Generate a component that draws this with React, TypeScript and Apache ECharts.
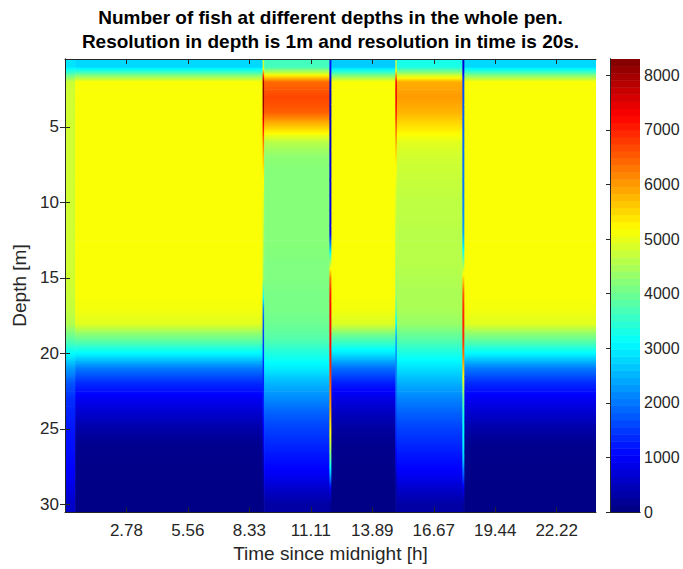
import React, { useEffect, useRef } from "react";
import * as echarts from "echarts";

const FONT = "'Liberation Sans', Arial, Helvetica, sans-serif";
const TXT = "#262626";

// Title lines
const titleLines = [
  "Number of fish at different depths in the whole pen.",
  "Resolution in depth is 1m and resolution in time is 20s.",
];

// Time segments (hours since midnight)
const segmentStart = [0, 0.46, 8.93, 9.0, 11.95, 12.04, 14.93, 15.0, 17.96, 18.05];
const segmentEnd = [0.46, 8.93, 9.0, 11.95, 12.04, 14.93, 15.0, 17.96, 18.05, 24];

// Depth rows (m)
const depths = [1, 2, 3, 4, 5, 6, 7, 8, 9, 10, 11, 12, 13, 14, 15, 16, 17, 18, 19, 20, 21, 22, 23, 24, 25, 26, 27, 28, 29, 30];

// Fish counts per depth (1..30 m) in each time segment
const profileStart = [2900, 4750, 4800, 4800, 4800, 4800, 4800, 4800, 4800, 4800, 4800, 4800, 4800, 4800, 4800, 4750, 4700, 4550, 3900, 3100, 2300, 1700, 1400, 1300, 1200, 1150, 1100, 1000, 800, 600];
const profileNight = [2800, 5150, 5150, 5150, 5150, 5150, 5150, 5150, 5150, 5150, 5150, 5150, 5150, 5150, 5150, 5150, 5100, 4950, 4000, 3050, 2000, 1350, 930, 620, 320, 130, 90, 70, 60, 50];
const profileEdge1 = [4800, 8100, 8200, 7900, 7100, 6300, 5700, 5300, 5100, 4900, 4800, 4700, 4600, 4500, 4400, 3500, 2200, 1700, 1500, 1500, 1400, 1300, 1300, 1200, 1000, 800, 500, 300, 200, 100];
const profileFeed1 = [3650, 6400, 6700, 6500, 5600, 4600, 4250, 4200, 4200, 4200, 4200, 4200, 4200, 4150, 4150, 4100, 4100, 4000, 3800, 3350, 2950, 2500, 2150, 1800, 1550, 1350, 1150, 950, 600, 300];
const profileEdge2 = [1200, 600, 500, 500, 550, 600, 650, 700, 700, 750, 800, 900, 2500, 4500, 6300, 7000, 7200, 7200, 7200, 7100, 6900, 6500, 6200, 5800, 5300, 4700, 3800, 2500, 800, 200];
const profileMidday = [2700, 5150, 5150, 5150, 5150, 5150, 5150, 5150, 5150, 5150, 5150, 5150, 5150, 5150, 5150, 5150, 5100, 4900, 3800, 2900, 1900, 1250, 800, 500, 260, 120, 90, 70, 60, 50];
const profileEdge3 = [4600, 7300, 7400, 7100, 6500, 5900, 5400, 5100, 4900, 4800, 4700, 4600, 4600, 4500, 4400, 4300, 3900, 3000, 2400, 2200, 2100, 2000, 1800, 1600, 1400, 1200, 900, 500, 300, 200];
const profileFeed2 = [3300, 5850, 6000, 5800, 5400, 4950, 4800, 4750, 4700, 4650, 4650, 4600, 4600, 4600, 4550, 4500, 4500, 4350, 3850, 3300, 2850, 2450, 2100, 1800, 1550, 1350, 1150, 950, 600, 300];
const profileEdge4 = [700, 1600, 1700, 1800, 1800, 1900, 1900, 2000, 2000, 2100, 2200, 2400, 3000, 4200, 5500, 6500, 6900, 7000, 6900, 6400, 5600, 4800, 3900, 3300, 3100, 3000, 2700, 1800, 800, 200];
const profileEvening = [2800, 5150, 5150, 5150, 5150, 5150, 5150, 5150, 5150, 5150, 5150, 5150, 5150, 5150, 5150, 5150, 5100, 4950, 4000, 3050, 2000, 1350, 930, 620, 320, 130, 90, 70, 60, 50];

const profiles = [profileStart, profileNight, profileEdge1, profileFeed1, profileEdge2, profileMidday, profileEdge3, profileFeed2, profileEdge4, profileEvening];

// Axis ticks
const xTickValues = [2.7778, 5.5556, 8.3333, 11.1111, 13.8889, 16.6667, 19.4444, 22.2222];
const yTickValues = [5, 10, 15, 20, 25, 30];
const colorTickValues = [0, 1000, 2000, 3000, 4000, 5000, 6000, 7000, 8000];
const colorMax = 8300;
const colormapSize = 64;

function jetColor(f: number): string {
  const c = (x: number) => Math.max(0, Math.min(1, x));
  const ff = Math.max(0, Math.min(1, f));
  const r = c(1.5 - Math.abs(4 * ff - 3));
  const g = c(1.5 - Math.abs(4 * ff - 2));
  const b = c(1.5 - Math.abs(4 * ff - 1));
  return `rgb(${Math.round(r * 255)},${Math.round(g * 255)},${Math.round(b * 255)})`;
}

export default function App() {
  const ref = useRef<HTMLDivElement>(null);

  useEffect(() => {
    if (!ref.current) return;
    const chart = echarts.init(ref.current, undefined, { renderer: "svg" });

    const heatData: number[][] = [];
    profiles.forEach((prof, s) => {
      depths.forEach((d, i) => {
        const v = prof[i];
        const vPrev = i > 0 ? prof[i - 1] : v;
        const vNext = i < prof.length - 1 ? prof[i + 1] : v;
        heatData.push([segmentStart[s], segmentEnd[s], d, v, vPrev, vNext]);
      });
    });

    const barData: number[][] = [];
    for (let i = 0; i < colormapSize; i++) {
      barData.push([(i * colorMax) / colormapSize, ((i + 1) * colorMax) / colormapSize, (i + 0.5) / colormapSize]);
    }

    const axisLine = { show: true, lineStyle: { color: TXT, width: 1 } };
    const labelStyle = { color: TXT, fontFamily: FONT };

    const option: any = {
      animation: false,
      backgroundColor: "#ffffff",
      textStyle: { fontFamily: FONT },
      graphic: [
        {
          type: "text",
          x: 330.5,
          y: 17.5,
          style: { text: titleLines[0], fill: "#000", font: `bold 19px ${FONT}`, align: "center", verticalAlign: "middle", textAlign: "center", textVerticalAlign: "middle" },
        },
        {
          type: "text",
          x: 330.5,
          y: 41.5,
          style: { text: titleLines[1], fill: "#000", font: `bold 19px ${FONT}`, align: "center", verticalAlign: "middle", textAlign: "center", textVerticalAlign: "middle" },
        },
      ],
      grid: [
        { left: 65, top: 59, width: 531, height: 453, containLabel: false },
        { left: 610, top: 59, width: 30, height: 453, containLabel: false },
      ],
      xAxis: [
        {
          type: "value", gridIndex: 0, min: 0, max: 24, position: "bottom", z: 10,
          axisLine,
          axisTick: { show: true, inside: true, length: 5, customValues: xTickValues, lineStyle: { color: TXT } },
          axisLabel: { show: true, customValues: xTickValues, formatter: (v: number) => v.toFixed(2), fontSize: 17, margin: 10, ...labelStyle },
          splitLine: { show: false },
          name: "Time since midnight [h]", nameLocation: "middle", nameGap: 31,
          nameTextStyle: { fontSize: 19, ...labelStyle },
        },
        {
          type: "value", gridIndex: 0, min: 0, max: 24, position: "top", z: 10,
          axisLine,
          axisTick: { show: true, inside: true, length: 5, customValues: xTickValues, lineStyle: { color: TXT } },
          axisLabel: { show: false },
          splitLine: { show: false },
        },
        {
          type: "value", gridIndex: 1, min: 0, max: 1, position: "bottom", z: 10,
          axisLine, axisTick: { show: false }, axisLabel: { show: false }, splitLine: { show: false },
        },
        {
          type: "value", gridIndex: 1, min: 0, max: 1, position: "top", z: 10,
          axisLine, axisTick: { show: false }, axisLabel: { show: false }, splitLine: { show: false },
        },
      ],
      yAxis: [
        {
          type: "value", gridIndex: 0, min: 0.5, max: 30.5, inverse: true, position: "left", z: 10,
          axisLine,
          axisTick: { show: true, inside: true, length: 5, customValues: yTickValues, lineStyle: { color: TXT } },
          axisLabel: { show: true, customValues: yTickValues, fontSize: 17, margin: 6, ...labelStyle },
          splitLine: { show: false },
          name: "Depth [m]", nameLocation: "middle", nameGap: 33, nameRotate: 90,
          nameTextStyle: { fontSize: 19, ...labelStyle },
        },
        {
          type: "value", gridIndex: 0, min: 0.5, max: 30.5, inverse: true, position: "right", z: 10,
          axisLine,
          axisTick: { show: true, inside: true, length: 5, customValues: yTickValues, lineStyle: { color: TXT } },
          axisLabel: { show: false },
          splitLine: { show: false },
        },
        {
          type: "value", gridIndex: 1, min: 0, max: colorMax, position: "right", z: 10,
          axisLine,
          axisTick: { show: true, inside: true, length: 4, customValues: colorTickValues, lineStyle: { color: TXT } },
          axisLabel: { show: true, customValues: colorTickValues, formatter: (v: number) => String(v), fontSize: 16, margin: 4, ...labelStyle },
          splitLine: { show: false },
        },
        {
          type: "value", gridIndex: 1, min: 0, max: colorMax, position: "left", z: 10,
          axisLine, axisTick: { show: false }, axisLabel: { show: false }, splitLine: { show: false },
        },
      ],
      series: [
        {
          type: "custom",
          name: "Fish count",
          xAxisIndex: 0,
          yAxisIndex: 0,
          clip: true,
          encode: { x: [0, 1], y: 2 },
          data: heatData,
          renderItem: (params: any, api: any) => {
            const t0 = api.value(0), t1 = api.value(1), d = api.value(2);
            const v = api.value(3), vPrev = api.value(4), vNext = api.value(5);
            const a = api.coord([t0, d - 0.5]);
            const b = api.coord([t1, d + 0.5]);
            const top = (vPrev + v) / 2;
            const bot = (v + vNext) / 2;
            const stops: any[] = [];
            for (let k = 0; k <= 8; k++) {
              const o = k / 8;
              const val = o <= 0.5 ? top + (v - top) * (o / 0.5) : v + (bot - v) * ((o - 0.5) / 0.5);
              stops.push({ offset: o, color: jetColor(val / colorMax) });
            }
            return {
              type: "rect",
              shape: { x: a[0], y: a[1], width: b[0] - a[0] + 0.6, height: b[1] - a[1] + 0.6 },
              style: { fill: new echarts.graphic.LinearGradient(0, 0, 0, 1, stops) },
            };
          },
        },
        {
          type: "custom",
          name: "Colorbar",
          xAxisIndex: 2,
          yAxisIndex: 2,
          clip: true,
          encode: { y: [0, 1] },
          data: barData,
          renderItem: (params: any, api: any) => {
            const lo = api.value(0), hi = api.value(1), f = api.value(2);
            const a = api.coord([0, hi]);
            const b = api.coord([1, lo]);
            return {
              type: "rect",
              shape: { x: a[0], y: a[1], width: b[0] - a[0], height: b[1] - a[1] + 0.5 },
              style: { fill: jetColor(f) },
            };
          },
        },
      ],
    };

    chart.setOption(option);
    return () => chart.dispose();
  }, []);

  return (
    <div
      ref={ref}
      style={{ position: "absolute", left: 0, top: 0, width: 683, height: 569, background: "#fff" }}
    />
  );
}
